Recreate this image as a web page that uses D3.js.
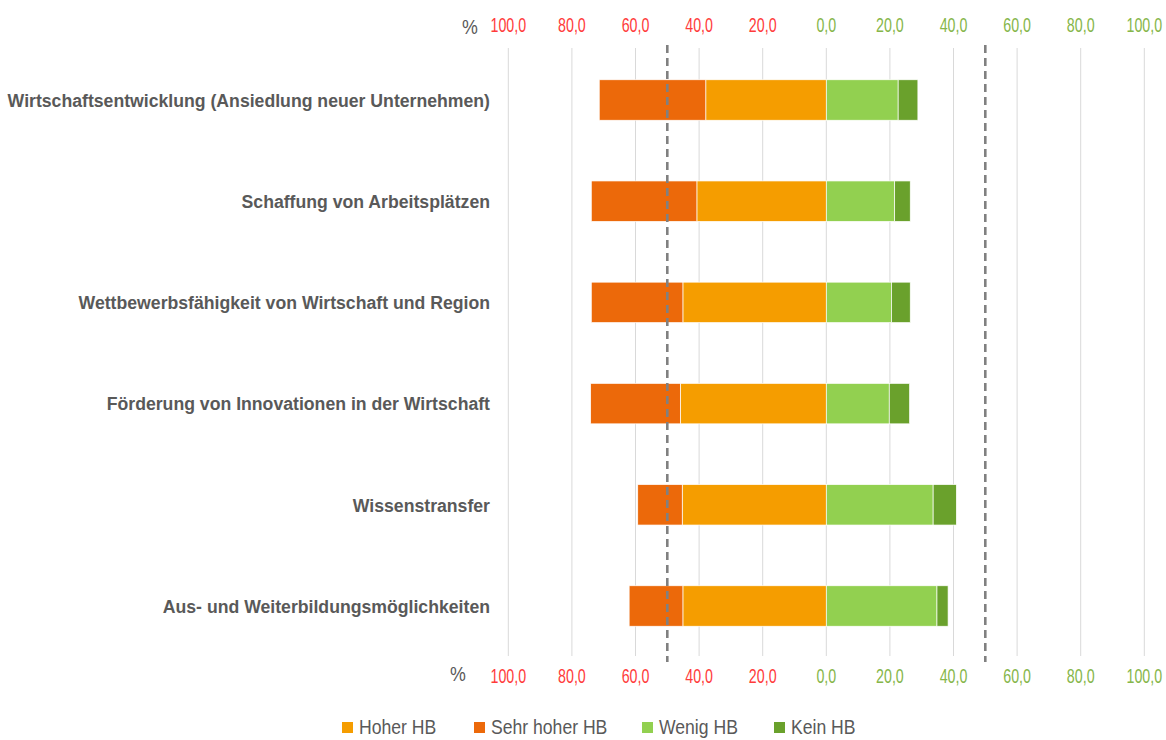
<!DOCTYPE html>
<html><head><meta charset="utf-8">
<script src="https://cdn.jsdelivr.net/npm/d3@7"></script>
<style>
html,body{margin:0;padding:0;background:#fff;}
svg{display:block;font-family:"Liberation Sans",Arial,sans-serif;}
</style></head>
<body>
<svg id="chart" width="1166" height="740"></svg>
<script>
const categories = [
  "Wirtschaftsentwicklung (Ansiedlung neuer Unternehmen)",
  "Schaffung von Arbeitsplätzen",
  "Wettbewerbsfähigkeit von Wirtschaft und Region",
  "Förderung von Innovationen in der Wirtschaft",
  "Wissenstransfer",
  "Aus- und Weiterbildungsmöglichkeiten"
];
const hoherHB     = [37.9, 40.7, 45.1, 45.9, 45.3, 45.1];
const sehrHoherHB = [33.5, 33.2, 28.8, 28.2, 14.0, 16.9];
const wenigHB     = [22.6, 21.5, 20.5, 19.8, 33.6, 34.8];
const keinHB      = [6.2, 4.9, 5.9, 6.4, 7.3, 3.5];
const tickValues  = [-100, -80, -60, -40, -20, 0, 20, 40, 60, 80, 100];
const refLines    = [-50, 50];
const seriesNames = ["Hoher HB", "Sehr hoher HB", "Wenig HB", "Kein HB"];
const seriesColors = ["#F59D00", "#EC690A", "#92D050", "#6AA12C"];

const svg = d3.select("#chart");
const x = d3.scaleLinear().domain([-100, 100]).range([508.3, 1144.3]);
const y = d3.scaleBand().domain(categories).range([49.4, 656.6]).paddingInner(0.6).paddingOuter(0.3);

// helper for horizontally condensed text
function label(g, tx, ty, text, opts) {
  const grp = g.append("g").attr("transform", `translate(${tx},${ty}) scale(${opts.sx},1)`);
  grp.append("text")
    .attr("text-anchor", opts.anchor || "middle")
    .attr("dominant-baseline", "central")
    .attr("font-size", opts.size)
    .attr("font-weight", opts.weight || "normal")
    .attr("fill", opts.fill)
    .text(text);
}

// gridlines
svg.append("g").selectAll("line").data(tickValues).join("line")
  .attr("x1", d => x(d)).attr("x2", d => x(d))
  .attr("y1", 48).attr("y2", 656)
  .attr("stroke", "#D9D9D9").attr("stroke-width", 1);

// bars
const segs = [];
categories.forEach((c, i) => {
  segs.push({c, s: 0, x0: -hoherHB[i], x1: 0});
  segs.push({c, s: 1, x0: -(hoherHB[i] + sehrHoherHB[i]), x1: -hoherHB[i]});
  segs.push({c, s: 2, x0: 0, x1: wenigHB[i]});
  segs.push({c, s: 3, x0: wenigHB[i], x1: wenigHB[i] + keinHB[i]});
});
svg.append("g").selectAll("rect").data(segs).join("rect")
  .attr("x", d => x(d.x0)).attr("width", d => x(d.x1) - x(d.x0))
  .attr("y", d => y(d.c)).attr("height", y.bandwidth())
  .attr("fill", d => seriesColors[d.s])
  .attr("stroke", "#fff").attr("stroke-width", 0.7);

// dashed reference lines
svg.append("g").selectAll("line").data(refLines).join("line")
  .attr("x1", d => x(d)).attr("x2", d => x(d))
  .attr("y1", 45).attr("y2", 662)
  .attr("stroke", "#808080").attr("stroke-width", 2.6)
  .attr("stroke-dasharray", "8,5");

// axis labels top & bottom
const fmt = d => d3.format(".1f")(Math.abs(d)).replace(".", ",");
const axG = svg.append("g");
tickValues.forEach(t => {
  const col = t < 0 ? "#FF3B3B" : "#86B64A";
  label(axG, x(t), 26, fmt(t), {sx: 0.73, size: 19.5, fill: col});
  label(axG, x(t), 677, fmt(t), {sx: 0.73, size: 19.5, fill: col});
});
label(axG, 470, 26, "%", {sx: 0.85, size: 21, fill: "#595959"});
label(axG, 458, 673, "%", {sx: 0.85, size: 21, fill: "#595959"});

// category labels
const catG = svg.append("g");
categories.forEach(c => {
  label(catG, 490, y(c) + y.bandwidth() / 2, c, {sx: 0.93, size: 19, weight: "bold", fill: "#595959", anchor: "end"});
});

// legend
const legX = [342, 474, 642, 774];
const legG = svg.append("g");
seriesNames.forEach((n, i) => {
  legG.append("rect").attr("x", legX[i]).attr("y", 722).attr("width", 11).attr("height", 11).attr("fill", seriesColors[i]);
  label(legG, legX[i] + 17, 727.5, n, {sx: 0.88, size: 20, fill: "#595959", anchor: "start"});
});
</script>
</body></html>
